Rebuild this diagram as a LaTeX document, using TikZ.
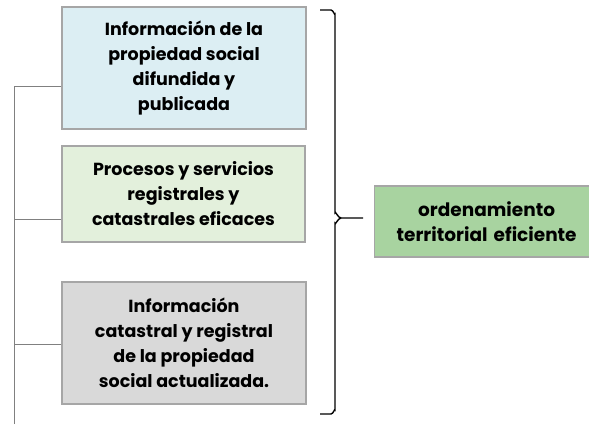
\documentclass[tikz,border=0pt]{standalone}
\usepackage{fontspec}
\setmainfont{Poppins}
\definecolor{cblue}{HTML}{DCEEF3}
\definecolor{cgreenl}{HTML}{E3F0DC}
\definecolor{cgray}{HTML}{D9D9D9}
\definecolor{cgreen}{HTML}{A8D3A0}
\definecolor{cborder}{HTML}{A6A6A6}
\begin{document}
\begin{tikzpicture}[x=1pt,y=-1pt,
  box/.style={draw=cborder,line width=1.3pt,align=center,font=\fontsize{17.5}{25}\selectfont\bfseries,inner sep=0pt},
  conn/.style={draw=black!50,line width=0.9pt},
  brk/.style={draw=black,line width=1.4pt}]
\useasboundingbox (0,0) rectangle (589,424);
\node[box,fill=cblue,minimum width=244,minimum height=122] (b1) at (184,68)
  {Información de la\\propiedad social\\difundida y\\publicada};
\node[box,fill=cgreenl,minimum width=243,minimum height=96] (b2) at (183.5,194)
  {Procesos y servicios\\registrales y\\catastrales eficaces};
\node[box,fill=cgray,minimum width=244,minimum height=122] (b3) at (184,343)
  {Información\\catastral y registral\\de la propiedad\\social actualizada.};
\node[box,fill=cgreen,minimum width=224,minimum height=71,anchor=west,text width=214,font=\fontsize{18.5}{25}\selectfont\bfseries] (g) at (374,221.5)
  {ordenamiento\\territorial eficiente};
\coordinate (lt) at (14,86);
\coordinate (lb) at (14,424);
\draw[conn] (lb) -- (lt) -- (b1.west |- lt);
\draw[conn] (b2.west |- 0,219) -- (lt |- 0,219);
\draw[conn] (b3.west |- 0,344) -- (lt |- 0,344);
\coordinate (bt) at (320,10);
\coordinate (bb) at (320,414);
\coordinate (tip) at (363,218);
\draw[brk] (bt) -- (331,10) to[out=0,in=-90] (335,14) -- (335,213) to[out=90,in=180] (341,218) -- (tip);
\draw[brk] (bb) -- (331,414) to[out=0,in=90] (335,410) -- (335,223) to[out=-90,in=180] (341,218);
\end{tikzpicture}
\end{document}
